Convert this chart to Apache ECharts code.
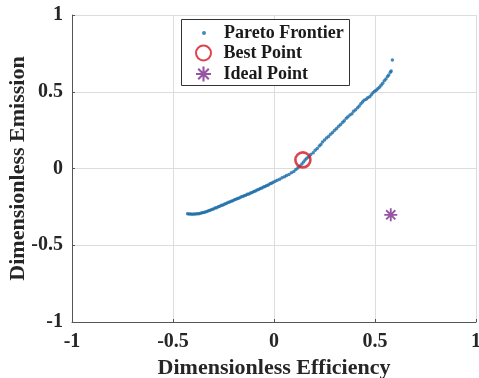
<!DOCTYPE html>
<html>
<head>
<meta charset="utf-8">
<script src="https://cdn.jsdelivr.net/npm/echarts@6/dist/echarts.min.js"></script>
<style>
html,body{margin:0;padding:0;background:#fff;}
#chart{width:479px;height:378px;}
</style>
</head>
<body>
<div id="chart"></div>
<script>
// ---- data ----
const xTicks = [-1, -0.5, 0, 0.5, 1];
const yTicks = [-1, -0.5, 0, 0.5, 1];
const xAxisName = 'Dimensionless Efficiency';
const yAxisName = 'Dimensionless Emission';
const seriesNames = ['Pareto Frontier', 'Best Point', 'Ideal Point'];

const paretoLower = [
  [-0.428,-0.295],[-0.420,-0.297],[-0.412,-0.296],[-0.404,-0.298],[-0.396,-0.297],[-0.388,-0.297],
  [-0.380,-0.295],[-0.372,-0.294],[-0.364,-0.292],[-0.356,-0.289],[-0.348,-0.287],[-0.340,-0.283],
  [-0.332,-0.280],[-0.324,-0.275],[-0.316,-0.272],[-0.308,-0.267],[-0.300,-0.264],[-0.292,-0.258],
  [-0.284,-0.255],[-0.276,-0.249],[-0.268,-0.246],[-0.260,-0.240],[-0.252,-0.237],[-0.244,-0.231],
  [-0.236,-0.228],[-0.228,-0.222],[-0.220,-0.219],[-0.212,-0.213],[-0.204,-0.210],[-0.196,-0.204],
  [-0.188,-0.201],[-0.180,-0.195],[-0.172,-0.192],[-0.164,-0.186],[-0.156,-0.183],[-0.148,-0.177],
  [-0.140,-0.174],[-0.132,-0.168],[-0.124,-0.166],[-0.116,-0.159],[-0.108,-0.156],[-0.100,-0.150],
  [-0.092,-0.147],[-0.084,-0.140],[-0.076,-0.137],[-0.068,-0.130],[-0.060,-0.127],[-0.052,-0.120],
  [-0.044,-0.117],[-0.036,-0.110],[-0.028,-0.107],[-0.020,-0.099],[-0.012,-0.096],[-0.004,-0.089]
];
const paretoMiddle = [
  [0.006,-0.083],[0.016,-0.076],[0.028,-0.070],[0.040,-0.061],[0.052,-0.054],[0.062,-0.046],
  [0.074,-0.039],[0.086,-0.027],[0.098,-0.020],[0.108,-0.007],[0.118,0.003],[0.128,0.016],
  [0.138,0.029],[0.146,0.043],[0.154,0.055],[0.162,0.067],[0.172,0.077],[0.182,0.091],
  [0.194,0.103],[0.204,0.119],[0.214,0.130],[0.224,0.147],[0.232,0.157],[0.240,0.173],
  [0.250,0.186],[0.260,0.198],[0.270,0.209],[0.280,0.223],[0.290,0.235],[0.300,0.250],
  [0.310,0.261],[0.320,0.275]
];
const paretoUpper = [
  [0.330,0.286],[0.340,0.301],[0.348,0.311],[0.358,0.328],[0.366,0.337],[0.376,0.349],
  [0.386,0.357],[0.394,0.373],[0.404,0.383],[0.414,0.396],[0.422,0.407],[0.430,0.422],
  [0.438,0.433],[0.446,0.444],[0.456,0.451],[0.464,0.461],[0.474,0.467],[0.482,0.481],
  [0.490,0.493],[0.498,0.504],[0.506,0.510],[0.514,0.520],[0.522,0.529],[0.530,0.542],
  [0.538,0.555],[0.546,0.572],[0.554,0.583],[0.562,0.599],[0.568,0.609],[0.576,0.627],
  [0.580,0.635],[0.586,0.707]
];
const bestPoint = [[0.143, 0.056]];
const idealPoint = [[0.578, -0.302]];

// ---- chart ----
const FONT = "'Liberation Serif', 'Times New Roman', serif";
const paretoData = paretoLower.concat(paretoMiddle, paretoUpper);
const asterisk = 'path://M-0.14,-1L0.14,-1L0.14,1L-0.14,1Z' +
  'M-1,-0.14L1,-0.14L1,0.14L-1,0.14Z' +
  'M-0.608,-0.806L0.806,0.608L0.608,0.806L-0.806,-0.608Z' +
  'M-0.806,0.608L0.608,-0.806L0.806,-0.608L-0.608,0.806Z';

const chart = echarts.init(document.getElementById('chart'), null, {renderer: 'canvas'});
const axisCommon = {
  type: 'value', min: -1, max: 1, interval: 0.5,
  nameLocation: 'middle',
  nameTextStyle: {fontFamily: FONT, fontWeight: 'bold', fontSize: 22, color: '#262626'},
  axisLine: {show: true, onZero: false, lineStyle: {color: '#555', width: 1}},
  axisTick: {show: true, inside: true, length: 3, lineStyle: {color: '#555'}},
  splitLine: {show: true, lineStyle: {color: '#dddddd', width: 1}},
  axisLabel: {fontFamily: FONT, fontWeight: 'bold', fontSize: 20, color: '#262626',
    showMinLabel: true, showMaxLabel: true, hideOverlap: false,
    formatter: v => String(Math.round(v * 10) / 10)}
};
const legendText = {fontFamily: FONT, fontWeight: 'bold', fontSize: 18, color: '#1a1a1a'};

chart.setOption({
  animation: false,
  backgroundColor: '#fff',
  grid: {left: 72, right: 3, top: 15, bottom: 56, containLabel: false, outerBoundsMode: 'none'},
  xAxis: Object.assign({}, axisCommon, {
    name: xAxisName, nameGap: 34,
    axisLabel: Object.assign({}, axisCommon.axisLabel, {margin: 10})
  }),
  yAxis: Object.assign({}, axisCommon, {
    name: yAxisName, nameGap: 43, nameMoveOverlap: false,
    axisLabel: Object.assign({}, axisCommon.axisLabel, {margin: 9})
  }),
  graphic: [{
    type: 'rect', left: 181, top: 19, z: 3,
    shape: {width: 168, height: 66},
    style: {fill: '#fff', stroke: '#333', lineWidth: 1}
  }],
  legend: [{
    data: [seriesNames[0]], orient: 'vertical', left: 202, top: 24, padding: 0,
    itemWidth: 30, itemHeight: 4, textStyle: legendText, z: 5
  }, {
    data: [seriesNames[1], seriesNames[2]], orient: 'vertical', left: 195, top: 44, padding: 0,
    itemWidth: 30, itemHeight: 15, itemGap: 3, textStyle: legendText, z: 5
  }],
  series: [{
    name: seriesNames[0], type: 'scatter', data: paretoData,
    symbol: 'circle', symbolSize: 3.5,
    itemStyle: {color: '#176aa6'}, z: 2
  }, {
    name: seriesNames[1], type: 'scatter', data: bestPoint,
    symbol: 'circle', symbolSize: 15,
    itemStyle: {color: 'rgba(255,255,255,0)', borderColor: '#d4161f', borderWidth: 2.6}, z: 3
  }, {
    name: seriesNames[2], type: 'scatter', data: idealPoint,
    symbol: asterisk, symbolSize: 13,
    itemStyle: {color: '#7a2b8c'}, z: 3
  }]
});
</script>
</body>
</html>
